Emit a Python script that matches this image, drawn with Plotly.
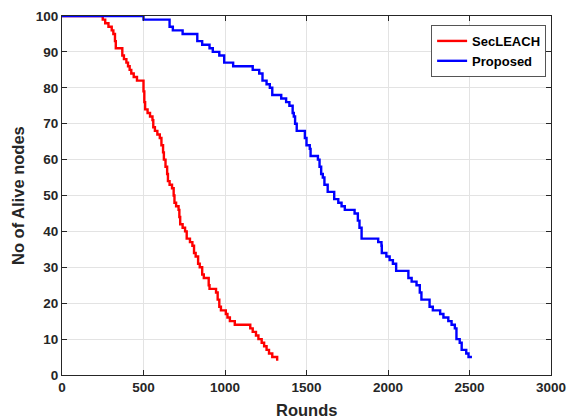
import plotly.graph_objects as go

# SecLEACH: rounds at which alive count changes, and alive count after change
sec_rounds = [0, 240, 250, 265, 285, 305, 315, 325, 330, 360, 370, 380, 395, 405, 415, 425, 440, 460,
              495, 500, 505, 510, 525, 540, 555, 560, 570, 585, 600, 610, 620, 625, 635, 645, 650,
              660, 675, 685, 690, 700, 715, 720, 725, 740, 755, 765, 785, 800, 810, 820, 835, 845,
              860, 870, 890, 900, 905, 930, 945, 955, 965, 975, 990, 1005, 1015, 1030, 1060, 1140,
              1155, 1170, 1190, 1205, 1225, 1240, 1255, 1270, 1290, 1310, 1320]
sec_alive = [100, 100, 99, 98, 97, 96, 95, 93, 91, 91, 89, 88, 87, 86, 85, 84, 83, 82,
             82, 79, 76, 74, 73, 72, 71, 69, 68, 67, 66, 64, 62, 60, 58, 56, 54,
             53, 52, 50, 48, 47, 46, 44, 42, 41, 40, 38, 37, 36, 34, 33, 31, 30,
             28, 27, 27, 25, 24, 24, 23, 21, 19, 18, 18, 17, 16, 15, 14, 14,
             13, 12, 11, 10, 9, 8, 7, 6, 5, 5, 4]

prop_rounds = [0, 497, 500, 650, 660, 680, 730, 740, 810, 830, 860, 885, 905, 925, 965, 995, 1050,
               1150, 1170, 1210, 1230, 1255, 1275, 1290, 1345, 1375, 1395, 1415, 1422, 1430, 1440,
               1460, 1490, 1500, 1520, 1525, 1550, 1570, 1580, 1590, 1600, 1610, 1630, 1655, 1670,
               1695, 1715, 1735, 1775, 1795, 1815, 1825, 1838, 1920, 1940, 1960, 1962, 1990, 2010,
               2030, 2050, 2100, 2125, 2145, 2175, 2195, 2205, 2235, 2255, 2275, 2320, 2340, 2370,
               2390, 2410, 2420, 2440, 2452, 2480, 2494, 2515]
prop_alive = [100, 100, 99, 99, 97, 96, 96, 95, 95, 93, 92, 92, 91, 90, 89, 87, 86,
              86, 85, 84, 82, 81, 80, 78, 77, 76, 75, 73, 72, 70, 68,
              68, 66, 64, 63, 61, 61, 60, 58, 56, 55, 53, 51, 51, 49,
              48, 47, 46, 46, 45, 43, 41, 38, 38, 37, 36, 34, 33, 32,
              31, 29, 29, 27, 26, 25, 23, 21, 21, 19, 18, 17, 16, 15,
              14, 13, 10, 9, 7, 6, 5, 5]

x_ticks = [0, 500, 1000, 1500, 2000, 2500, 3000]
y_ticks = [0, 10, 20, 30, 40, 50, 60, 70, 80, 90, 100]

FONT = "Liberation Sans, Arial, sans-serif"
AX = "#262626"

fig = go.Figure()
fig.add_trace(go.Scatter(x=sec_rounds, y=sec_alive, mode="lines", name="SecLEACH",
                         line=dict(color="#ff0000", width=2.4, shape="hv")))
fig.add_trace(go.Scatter(x=prop_rounds, y=prop_alive, mode="lines", name="Proposed",
                         line=dict(color="#0000ff", width=2.4, shape="hv")))

axis_common = dict(
    showline=True, linecolor=AX, linewidth=1, mirror="ticks",
    ticks="inside", ticklen=5, tickcolor=AX,
    showgrid=True, gridcolor="#e3e3e3", gridwidth=1, zeroline=False,
    automargin=False,
    tickfont=dict(family=FONT, size=13.5, color=AX, weight="bold"),
)

fig.update_layout(
    width=568, height=419,
    margin=dict(l=62, r=17, t=16, b=44),
    paper_bgcolor="white", plot_bgcolor="white",
    showlegend=True,
    legend=dict(x=0.99, y=0.975, xanchor="right", yanchor="top",
                bgcolor="white", bordercolor="#555555", borderwidth=1,
                font=dict(family=FONT, size=13, color="#000000", weight="bold"),
                tracegroupgap=0, itemwidth=30),
    xaxis=dict(range=[0, 3000], tickvals=x_ticks, ticktext=[str(v) for v in x_ticks],
               **axis_common),
    yaxis=dict(range=[0, 100], tickvals=y_ticks, ticktext=[str(v) for v in y_ticks],
               **axis_common),
    annotations=[
        dict(text="Rounds", xref="paper", yref="paper", x=0.5, y=-0.097,
             xanchor="center", yanchor="middle", showarrow=False,
             font=dict(family=FONT, size=16.5, color=AX, weight="bold")),
        dict(text="No of Alive nodes", xref="paper", yref="paper", x=-0.091, y=0.5,
             xanchor="center", yanchor="middle", showarrow=False, textangle=-90,
             font=dict(family=FONT, size=16.5, color=AX, weight="bold")),
    ],
)

# remove the default 8px page margin so the figure fills the 568x419 window exactly
fig.write_html("out.html",
               config={"displayModeBar": False},
               post_script="document.body.style.margin='0';document.body.style.overflow='hidden';")
